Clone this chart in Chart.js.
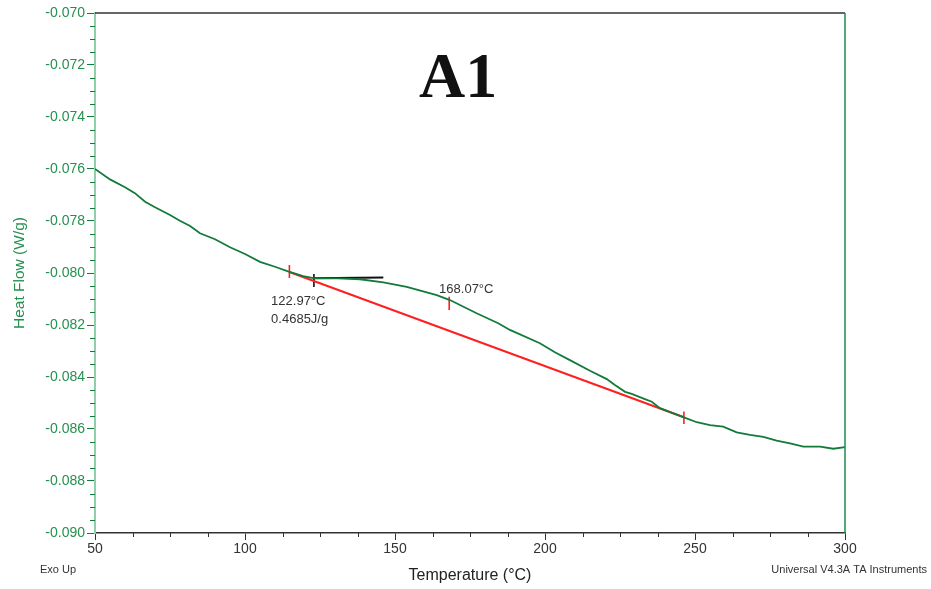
<!DOCTYPE html>
<html>
<head>
<meta charset="utf-8">
<script src="https://cdn.jsdelivr.net/npm/chart.js@4.4.0/dist/chart.umd.min.js"></script>
<style>
  html, body { margin: 0; padding: 0; background: #fff; }
  #dsc { display: block; }
</style>
</head>
<body>
<canvas id="dsc" width="931" height="589"></canvas>
<script>
// DSC trace, sample A1
var temps = [50, 55, 60, 63.3, 66.7, 70, 75, 78.3, 81.7, 85, 90, 95, 100, 105, 110, 114.8,
  119.4, 122.8, 131, 138.3, 146.1, 153.9, 163.9, 168.3, 177.2, 184.4, 188.3, 198.3, 203.3,
  208.3, 215, 220.6, 223.3, 226.7, 228.9, 233.3, 235.6, 238.3, 246.3, 250.6, 255, 259.4,
  263.9, 268.3, 272.8, 277.2, 281.7, 286.1, 291.7, 296.1, 300];
var heatFlow = [-0.07600, -0.07640, -0.07670, -0.07693, -0.07726, -0.07747, -0.07777, -0.07799,
  -0.07819, -0.07847, -0.07870, -0.07901, -0.07927, -0.07957, -0.07976, -0.07996, -0.08012,
  -0.08020, -0.08021, -0.08024, -0.08036, -0.08053, -0.08085, -0.08104, -0.08155, -0.08193,
  -0.08219, -0.08270, -0.08305, -0.08335, -0.08376, -0.08408, -0.08431, -0.08457, -0.08465,
  -0.08485, -0.08495, -0.08520, -0.08555, -0.08574, -0.08585, -0.08591, -0.08613, -0.08623,
  -0.08630, -0.08645, -0.08655, -0.08668, -0.08668, -0.08676, -0.08670];

// baseline (red) and onset tangent (black)
var baseX = [114.8, 246.3];
var baseY = [-0.07996, -0.08555];
var tangentX = [122.8, 146.1];
var tangentY = [-0.08020, -0.08017];

// marker ticks: temperature, low/high heat flow
var redMarkX = [114.8, 168.07, 246.3];
var redMarkTop = [-0.07969, -0.08091, -0.08533];
var redMarkBottom = [-0.08019, -0.08142, -0.08581];
var blackMarkX = [122.97];
var blackMarkTop = [-0.08004];
var blackMarkBottom = [-0.08054];

var xTicks = [50, 100, 150, 200, 250, 300];
var yTicks = [-0.090, -0.088, -0.086, -0.084, -0.082, -0.080, -0.078, -0.076, -0.074, -0.072, -0.070];

// annotation texts: [text, x, y]
var notes = [
  ['122.97°C', 108.7, -0.08111],
  ['0.4685J/g', 108.7, -0.08177],
  ['168.07°C', 164.7, -0.08065]
];

var green = '#127a3a';
var red = '#ff1f1f';

function pts(xs, ys) {
  return xs.map(function (x, i) { return { x: x, y: ys[i] }; });
}

var datasets = [
  { data: pts(temps, heatFlow), borderColor: green, borderWidth: 1.8 },
  { data: pts(baseX, baseY), borderColor: red, borderWidth: 2 },
  { data: pts(tangentX, tangentY), borderColor: '#111', borderWidth: 2 }
];
redMarkX.forEach(function (x, i) {
  datasets.push({ data: [{ x: x, y: redMarkTop[i] }, { x: x, y: redMarkBottom[i] }], borderColor: red, borderWidth: 1.6 });
});
blackMarkX.forEach(function (x, i) {
  datasets.push({ data: [{ x: x, y: blackMarkTop[i] }, { x: x, y: blackMarkBottom[i] }], borderColor: '#111', borderWidth: 1.6 });
});

var extras = {
  id: 'extras',
  afterDraw: function (chart) {
    var ctx = chart.ctx;
    var a = chart.chartArea;
    var xs = chart.scales.x, ys = chart.scales.y;
    ctx.save();

    // top and right frame
    ctx.strokeStyle = '#333';
    ctx.lineWidth = 1.5;
    ctx.beginPath(); ctx.moveTo(a.left, a.top); ctx.lineTo(a.right, a.top); ctx.stroke();
    ctx.strokeStyle = '#16904a';
    ctx.beginPath(); ctx.moveTo(a.right, a.top); ctx.lineTo(a.right, a.bottom); ctx.stroke();

    // minor ticks
    ctx.lineWidth = 1;
    ctx.strokeStyle = '#333';
    for (var v = 62.5; v < 300; v += 12.5) {
      if (v % 50 === 0) continue;
      var px = Math.round(xs.getPixelForValue(v)) + 0.5;
      ctx.beginPath(); ctx.moveTo(px, a.bottom); ctx.lineTo(px, a.bottom + 4); ctx.stroke();
    }
    ctx.strokeStyle = green;
    for (var k = 1; k < 40; k++) {
      if (k % 4 === 0) continue;
      var py = Math.round(ys.getPixelForValue(-0.090 + k * 0.0005)) + 0.5;
      ctx.beginPath(); ctx.moveTo(a.left - 5, py); ctx.lineTo(a.left, py); ctx.stroke();
    }

    // annotations
    ctx.fillStyle = '#333';
    ctx.font = '13px "Liberation Sans", Arial, sans-serif';
    ctx.textBaseline = 'middle';
    ctx.textAlign = 'left';
    notes.forEach(function (n) {
      ctx.fillText(n[0], xs.getPixelForValue(n[1]), ys.getPixelForValue(n[2]));
    });

    // sample label
    ctx.fillStyle = '#111';
    ctx.font = 'bold 64px "Liberation Serif", "Times New Roman", serif';
    ctx.textBaseline = 'alphabetic';
    ctx.fillText('A1', 419, 97);

    // footer texts
    ctx.font = '11px "Liberation Sans", Arial, sans-serif';
    ctx.fillStyle = '#333';
    ctx.textBaseline = 'middle';
    ctx.fillText('Exo Up', 40, 570);
    ctx.textAlign = 'right';
    ctx.fillText('Universal V4.3A TA Instruments', 927, 570);
    ctx.restore();
  }
};

new Chart('dsc', {
  type: 'line',
  data: { datasets: datasets },
  options: {
    responsive: false,
    animation: false,
    devicePixelRatio: 1,
    layout: { padding: { top: 13, right: 86, left: 0, bottom: 0 } },
    elements: {
      point: { radius: 0 },
      line: { tension: 0, fill: false }
    },
    plugins: {
      legend: { display: false },
      tooltip: { enabled: false }
    },
    scales: {
      x: {
        type: 'linear',
        min: 50,
        max: 300,
        afterFit: function (s) { s.height = 56; },
        afterBuildTicks: function (s) { s.ticks = xTicks.map(function (v) { return { value: v }; }); },
        border: { color: '#333', width: 1.5 },
        grid: { drawOnChartArea: false, tickLength: 7, color: '#333' },
        ticks: {
          color: '#333',
          padding: 1,
          maxRotation: 0,
          font: { family: '"Liberation Sans", Arial, sans-serif', size: 14 }
        },
        title: {
          display: true,
          text: 'Temperature (°C)',
          color: '#222',
          padding: { top: 0, bottom: 4 },
          font: { family: '"Liberation Sans", Arial, sans-serif', size: 16 }
        }
      },
      y: {
        type: 'linear',
        min: -0.090,
        max: -0.070,
        afterFit: function (s) { s.width = 95; },
        afterBuildTicks: function (s) { s.ticks = yTicks.map(function (v) { return { value: v }; }); },
        border: { color: '#8fd0a8', width: 2 },
        grid: { drawOnChartArea: false, tickLength: 8, color: green },
        ticks: {
          color: '#25904f',
          padding: 2,
          font: { family: '"Liberation Sans", Arial, sans-serif', size: 14 },
          callback: function (v) { return v.toFixed(3); }
        },
        title: {
          display: true,
          text: 'Heat Flow (W/g)',
          color: '#25904f',
          padding: { top: 10, bottom: 0 },
          font: { family: '"Liberation Sans", Arial, sans-serif', size: 15.5 }
        }
      }
    }
  },
  plugins: [extras]
});
</script>
</body>
</html>
